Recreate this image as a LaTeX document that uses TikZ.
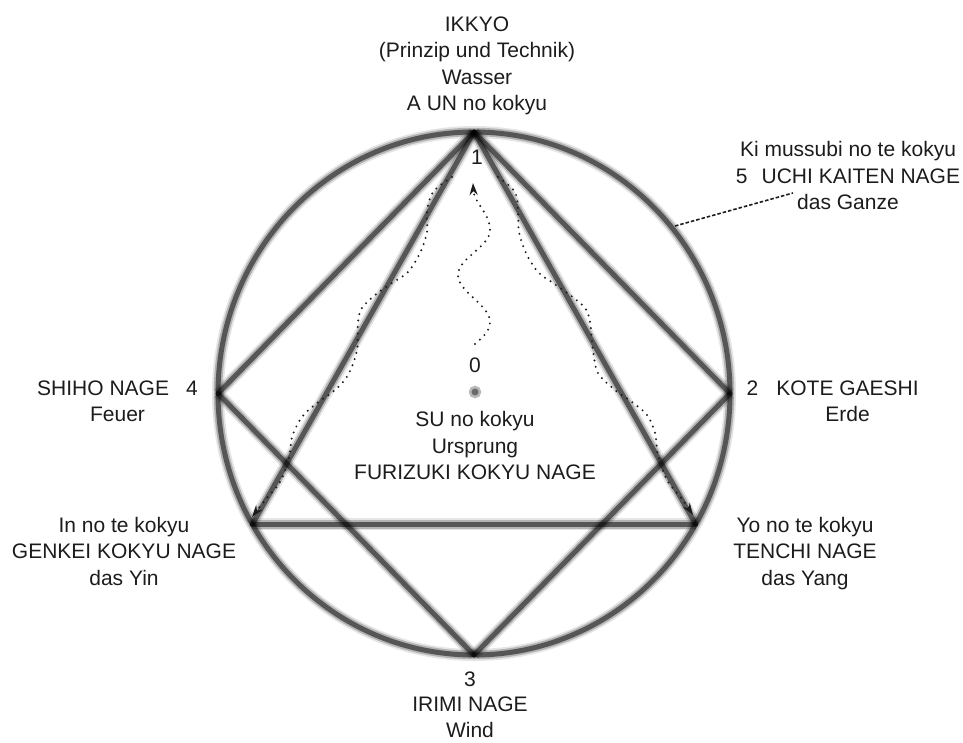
\documentclass[tikz,border=0pt]{standalone}
\usepackage{fontspec}
\setmainfont{Liberation Sans}
\usetikzlibrary{arrows.meta,positioning,calc}
\definecolor{ink}{HTML}{1C1C1C}
\tikzset{band/.style={draw=black,line width=5pt,draw opacity=.52,line cap=round,
    preaction={draw=black,line width=12pt,draw opacity=.1},
    preaction={draw=black,line width=8.5pt,draw opacity=.22}},
  lbl/.style={font=\fontsize{21}{26.5}\selectfont,text=ink,inner sep=0pt,align=center,anchor=north},
  num/.style={font=\fontsize{21}{26.5}\selectfont,text=ink,inner sep=0pt,anchor=base},
  wave/.style={draw=ink,line width=2.2pt,line cap=round,dash pattern=on 0pt off 6.5pt,
    -{Stealth[length=12pt,width=8pt]}},
  lead/.style={draw=ink,line width=1.6pt,dash pattern=on 3.5pt off 2pt},
  dot/.style={circle,fill=black!58,draw=black!28,line width=2.5pt,minimum size=10pt,inner sep=0pt}}
\begin{document}
\begin{tikzpicture}[x=1pt,y=-1pt]
\useasboundingbox (0,0) rectangle (963,743);
% points on the ring
\coordinate (c) at (474,393.5);
\coordinate (p1) at (474,132);
\coordinate (p2) at (730,393.5);
\coordinate (p3) at (474,655);
\coordinate (p4) at (218,393.5);
\coordinate (pl) at (252.3,524.3);
\coordinate (pr) at (695.7,524.3);
\coordinate (p5) at (675,226);
\coordinate (d5) at (793,193);
\draw[band] (c) ellipse [x radius=256pt,y radius=261.5pt];
\foreach \a/\b in {p1/p2,p2/p3,p3/p4,p4/p1,p1/pl,pl/pr,pr/p1}{\draw[band] (\a)--(\b);}
\node[dot] (o) at (475,392) {};
% labels
\node[lbl] (lTop) at (477,16.4) {IKKYO\\(Prinzip und Technik)\\Wasser\\A UN no kokyu};
\node[num] (n1) at (477,165) {1};
\node[lbl] (l5) at (848,141.4) {Ki mussubi no te kokyu\\5\hspace{14pt}UCHI KAITEN NAGE\\das Ganze};
\node[lbl] (l4) at (117.5,380.4) {SHIHO NAGE\hspace{17pt}4\\Feuer};
\node[num] (n2) at (752.5,395.7) {2};
\node[lbl] (l2) at (847.5,380.4) {KOTE GAESHI\\Erde};
\node[num] (n0) at (475,372) {0};
\node[lbl] (l0) at (475,411.4) {SU no kokyu\\Ursprung\\FURIZUKI KOKYU NAGE};
\node[lbl] (lL) at (124,516.7) {In no te kokyu\\GENKEI KOKYU NAGE\\das Yin};
\node[lbl] (lR) at (805,516.7) {Yo no te kokyu\\TENCHI NAGE\\das Yang};
\node[num] (n3) at (470,686) {3};
\node[lbl] (l3) at (470,696.5) {IRIMI NAGE\\Wind};
% dotted paths
\draw[wave] (475,344) .. controls (483,337) and (490,331) .. (490,322)
  .. controls (490,305) and (458,292) .. (458,275)
  .. controls (458,258) and (490,247) .. (490,230)
  .. controls (490,213) and (474,203) .. (473,183);
\draw[wave] plot[smooth,tension=.55] coordinates {(452,177) (433,192) (427,212) (427,232) (420,253) (408,272) (392,283) (375,295) (362,308) (358,322) (357,350) (348,375) (335,390) (317,403) (302,417) (292,437) (289,458) (280,482) (266,499) (252,517)};
\draw[wave] plot[smooth,tension=.55] coordinates {(498,177) (515,192) (518,212) (519,232) (526,253) (538,272) (553,283) (570,295) (585,308) (590,322) (593,350) (598,373) (615,390) (632,402) (647,415) (655,433) (658,455) (667,480) (682,499) (693,515)};
\draw[lead] (p5)--(d5);
\end{tikzpicture}
\end{document}
